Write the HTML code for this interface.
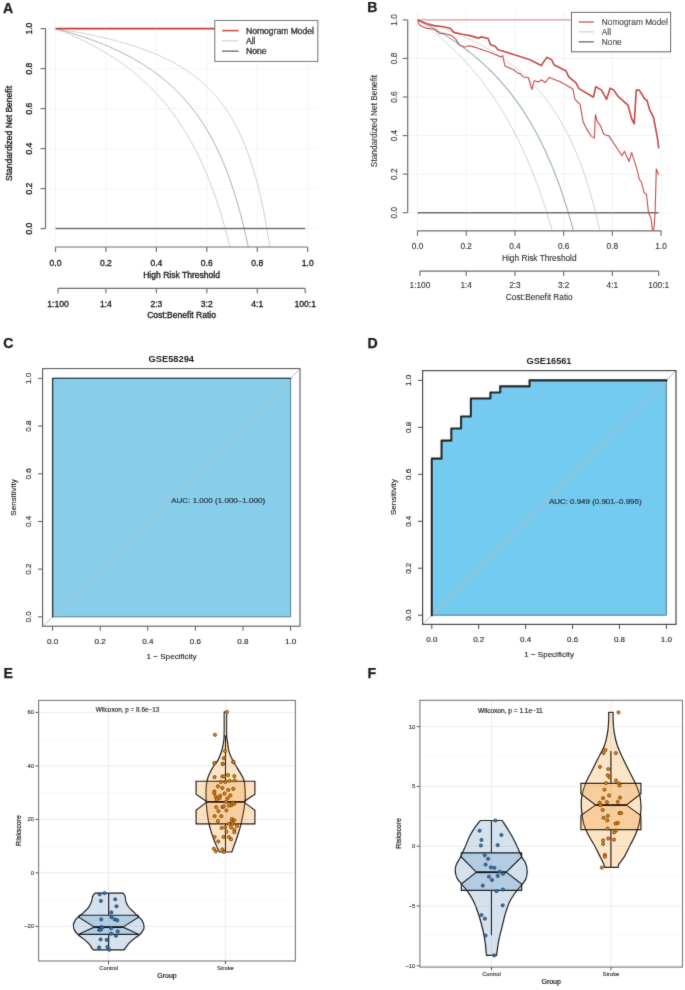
<!DOCTYPE html><html><head><meta charset="utf-8"><style>html,body{margin:0;padding:0;background:#fff;}svg{display:block;font-family:"Liberation Sans", sans-serif;will-change:transform;}</style></head><body>
<svg width="685" height="990" viewBox="0 0 685 990">
<defs><filter id="soft" x="0" y="0" width="685" height="990" filterUnits="userSpaceOnUse"><feConvolveMatrix order="3" kernelMatrix="1 8 1 8 64 8 1 8 1" divisor="100" edgeMode="duplicate"/></filter></defs>
<rect width="685" height="990" fill="#fff"/>
<g filter="url(#soft)">
<text x="2.9" y="12.65" font-size="14.1" text-anchor="start" font-weight="bold" fill="#1a1a1a" stroke="#1a1a1a" stroke-width="0.25">A</text>
<text x="367.2" y="12.45" font-size="14.1" text-anchor="start" font-weight="bold" fill="#1a1a1a" stroke="#1a1a1a" stroke-width="0.25">B</text>
<text x="3.2" y="347.95" font-size="14.1" text-anchor="start" font-weight="bold" fill="#1a1a1a" stroke="#1a1a1a" stroke-width="0.25">C</text>
<text x="367.5" y="347.85" font-size="14.1" text-anchor="start" font-weight="bold" fill="#1a1a1a" stroke="#1a1a1a" stroke-width="0.25">D</text>
<text x="3.5" y="677.95" font-size="14.1" text-anchor="start" font-weight="bold" fill="#1a1a1a" stroke="#1a1a1a" stroke-width="0.25">E</text>
<text x="367.5" y="677.95" font-size="14.1" text-anchor="start" font-weight="bold" fill="#1a1a1a" stroke="#1a1a1a" stroke-width="0.25">F</text>
<line x1="55.5" y1="20.3" x2="55.5" y2="247" stroke="#f4f4f4" stroke-width="1"/>
<line x1="105.94" y1="20.3" x2="105.94" y2="247" stroke="#f4f4f4" stroke-width="1"/>
<line x1="156.38" y1="20.3" x2="156.38" y2="247" stroke="#f4f4f4" stroke-width="1"/>
<line x1="206.82" y1="20.3" x2="206.82" y2="247" stroke="#f4f4f4" stroke-width="1"/>
<line x1="257.26" y1="20.3" x2="257.26" y2="247" stroke="#f4f4f4" stroke-width="1"/>
<line x1="307.7" y1="20.3" x2="307.7" y2="247" stroke="#f4f4f4" stroke-width="1"/>
<line x1="45.5" y1="228.6" x2="317.8" y2="228.6" stroke="#f4f4f4" stroke-width="1"/>
<line x1="45.5" y1="188.6" x2="317.8" y2="188.6" stroke="#f4f4f4" stroke-width="1"/>
<line x1="45.5" y1="148.6" x2="317.8" y2="148.6" stroke="#f4f4f4" stroke-width="1"/>
<line x1="45.5" y1="108.6" x2="317.8" y2="108.6" stroke="#f4f4f4" stroke-width="1"/>
<line x1="45.5" y1="68.6" x2="317.8" y2="68.6" stroke="#f4f4f4" stroke-width="1"/>
<line x1="45.5" y1="28.6" x2="317.8" y2="28.6" stroke="#f4f4f4" stroke-width="1"/>
<clipPath id="ca"><rect x="45.5" y="20.3" width="272.3" height="226.7"/></clipPath>
<g clip-path="url(#ca)">
<polyline points="55.5,28.6 56.76,29.09 58.02,29.58 59.28,30.08 60.54,30.58 61.8,31.09 63.07,31.61 64.33,32.12 65.59,32.65 66.85,33.18 68.11,33.71 69.37,34.26 70.63,34.8 71.89,35.36 73.15,35.91 74.41,36.48 75.68,37.05 76.94,37.63 78.2,38.21 79.46,38.8 80.72,39.4 81.98,40 83.24,40.61 84.5,41.23 85.76,41.85 87.03,42.48 88.29,43.12 89.55,43.77 90.81,44.42 92.07,45.08 93.33,45.75 94.59,46.43 95.85,47.11 97.11,47.8 98.37,48.5 99.64,49.21 100.9,49.93 102.16,50.66 103.42,51.39 104.68,52.14 105.94,52.89 107.2,53.66 108.46,54.43 109.72,55.22 110.98,56.01 112.25,56.81 113.51,57.63 114.77,58.45 116.03,59.29 117.29,60.13 118.55,60.99 119.81,61.86 121.07,62.74 122.33,63.64 123.59,64.54 124.86,65.46 126.12,66.39 127.38,67.33 128.64,68.29 129.9,69.26 131.16,70.25 132.42,71.25 133.68,72.26 134.94,73.29 136.2,74.33 137.47,75.39 138.73,76.46 139.99,77.55 141.25,78.66 142.51,79.78 143.77,80.93 145.03,82.08 146.29,83.26 147.55,84.46 148.81,85.67 150.08,86.91 151.34,88.16 152.6,89.43 153.86,90.73 155.12,92.05 156.38,93.38 157.64,94.75 158.9,96.13 160.16,97.54 161.42,98.97 162.69,100.43 163.95,101.91 165.21,103.42 166.47,104.95 167.73,106.52 168.99,108.11 170.25,109.73 171.51,111.38 172.77,113.06 174.03,114.78 175.3,116.52 176.56,118.3 177.82,120.12 179.08,121.97 180.34,123.85 181.6,125.78 182.86,127.74 184.12,129.74 185.38,131.79 186.64,133.87 187.91,136.01 189.17,138.18 190.43,140.41 191.69,142.68 192.95,145 194.21,147.37 195.47,149.8 196.73,152.28 197.99,154.82 199.25,157.42 200.52,160.07 201.78,162.8 203.04,165.58 204.3,168.44 205.56,171.37 206.82,174.37 208.08,177.44 209.34,180.59 210.6,183.83 211.86,187.15 213.13,190.56 214.39,194.06 215.65,197.66 216.91,201.36 218.17,205.16 219.43,209.07 220.69,213.1 221.95,217.24 223.21,221.5 224.47,225.9 225.74,230.43 227,235.1 228.26,239.92 229.52,244.9 230.78,250.04 232.04,255.35 233.3,260.84 234.56,266.52 235.82,272.39" fill="none" stroke="#cfcfcf" stroke-width="1" stroke-linejoin="round"/>
<polyline points="55.5,28.6 56.76,28.79 58.02,28.99 59.28,29.19 60.54,29.39 61.8,29.59 63.07,29.8 64.33,30 65.59,30.21 66.85,30.42 68.11,30.63 69.37,30.85 70.63,31.07 71.89,31.29 73.15,31.51 74.41,31.73 75.68,31.96 76.94,32.19 78.2,32.42 79.46,32.66 80.72,32.9 81.98,33.14 83.24,33.38 84.5,33.62 85.76,33.87 87.03,34.12 88.29,34.38 89.55,34.63 90.81,34.89 92.07,35.16 93.33,35.42 94.59,35.69 95.85,35.96 97.11,36.24 98.37,36.52 99.64,36.8 100.9,37.09 102.16,37.38 103.42,37.67 104.68,37.97 105.94,38.27 107.2,38.57 108.46,38.88 109.72,39.19 110.98,39.51 112.25,39.82 113.51,40.15 114.77,40.48 116.03,40.81 117.29,41.15 118.55,41.49 119.81,41.83 121.07,42.18 122.33,42.54 123.59,42.9 124.86,43.27 126.12,43.64 127.38,44.01 128.64,44.39 129.9,44.78 131.16,45.17 132.42,45.57 133.68,45.97 134.94,46.38 136.2,46.79 137.47,47.22 138.73,47.64 139.99,48.08 141.25,48.52 142.51,48.96 143.77,49.42 145.03,49.88 146.29,50.35 147.55,50.82 148.81,51.31 150.08,51.8 151.34,52.3 152.6,52.8 153.86,53.32 155.12,53.84 156.38,54.38 157.64,54.92 158.9,55.47 160.16,56.03 161.42,56.6 162.69,57.18 163.95,57.77 165.21,58.37 166.47,58.98 167.73,59.6 168.99,60.23 170.25,60.88 171.51,61.54 172.77,62.2 174.03,62.89 175.3,63.58 176.56,64.29 177.82,65.01 179.08,65.75 180.34,66.5 181.6,67.26 182.86,68.04 184.12,68.84 185.38,69.66 186.64,70.49 187.91,71.33 189.17,72.2 190.43,73.08 191.69,73.99 192.95,74.91 194.21,75.86 195.47,76.82 196.73,77.81 197.99,78.82 199.25,79.85 200.52,80.91 201.78,81.99 203.04,83.1 204.3,84.24 205.56,85.4 206.82,86.6 208.08,87.82 209.34,89.07 210.6,90.36 211.86,91.68 213.13,93.04 214.39,94.43 215.65,95.86 216.91,97.34 218.17,98.85 219.43,100.4 220.69,102 221.95,103.65 223.21,105.35 224.47,107.1 225.74,108.9 227,110.76 228.26,112.68 229.52,114.66 230.78,116.7 232.04,118.81 233.3,121 234.56,123.26 235.82,125.6 237.08,128.02 238.35,130.53 239.61,133.13 240.87,135.84 242.13,138.64 243.39,141.56 244.65,144.59 245.91,147.75 247.17,151.03 248.43,154.46 249.69,158.04 250.96,161.77 252.22,165.68 253.48,169.77 254.74,174.05 256,178.54 257.26,183.25 258.52,188.21 259.78,193.43 261.04,198.93 262.3,204.73 263.57,210.87 264.83,217.37 266.09,224.26 267.35,231.58 268.61,239.38 269.87,247.69 271.13,256.58 272.39,266.1 273.65,276.33" fill="none" stroke="#cfcfcf" stroke-width="1" stroke-linejoin="round"/>
<polyline points="55.5,28.6 56.76,28.94 58.02,29.28 59.28,29.63 60.54,29.98 61.8,30.33 63.07,30.68 64.33,31.04 65.59,31.41 66.85,31.77 68.11,32.15 69.37,32.52 70.63,32.9 71.89,33.28 73.15,33.67 74.41,34.06 75.68,34.46 76.94,34.86 78.2,35.26 79.46,35.67 80.72,36.09 81.98,36.5 83.24,36.93 84.5,37.36 85.76,37.79 87.03,38.23 88.29,38.67 89.55,39.12 90.81,39.57 92.07,40.03 93.33,40.49 94.59,40.96 95.85,41.43 97.11,41.91 98.37,42.4 99.64,42.89 100.9,43.39 102.16,43.89 103.42,44.41 104.68,44.92 105.94,45.44 107.2,45.97 108.46,46.51 109.72,47.05 110.98,47.6 112.25,48.16 113.51,48.73 114.77,49.3 116.03,49.88 117.29,50.46 118.55,51.06 119.81,51.66 121.07,52.27 122.33,52.89 123.59,53.52 124.86,54.16 126.12,54.8 127.38,55.46 128.64,56.12 129.9,56.79 131.16,57.48 132.42,58.17 133.68,58.87 134.94,59.58 136.2,60.31 137.47,61.04 138.73,61.79 139.99,62.54 141.25,63.31 142.51,64.09 143.77,64.88 145.03,65.68 146.29,66.5 147.55,67.33 148.81,68.17 150.08,69.03 151.34,69.9 152.6,70.78 153.86,71.68 155.12,72.59 156.38,73.52 157.64,74.46 158.9,75.42 160.16,76.4 161.42,77.39 162.69,78.4 163.95,79.43 165.21,80.48 166.47,81.54 167.73,82.63 168.99,83.73 170.25,84.85 171.51,86 172.77,87.16 174.03,88.35 175.3,89.56 176.56,90.8 177.82,92.05 179.08,93.34 180.34,94.65 181.6,95.98 182.86,97.34 184.12,98.73 185.38,100.15 186.64,101.59 187.91,103.07 189.17,104.58 190.43,106.12 191.69,107.7 192.95,109.31 194.21,110.95 195.47,112.64 196.73,114.36 197.99,116.12 199.25,117.92 200.52,119.76 201.78,121.65 203.04,123.58 204.3,125.56 205.56,127.59 206.82,129.67 208.08,131.8 209.34,133.99 210.6,136.23 211.86,138.54 213.13,140.9 214.39,143.33 215.65,145.82 216.91,148.39 218.17,151.02 219.43,153.73 220.69,156.52 221.95,159.4 223.21,162.35 224.47,165.4 225.74,168.54 227,171.78 228.26,175.12 229.52,178.57 230.78,182.14 232.04,185.82 233.3,189.63 234.56,193.56 235.82,197.64 237.08,201.86 238.35,206.24 239.61,210.77 240.87,215.48 242.13,220.37 243.39,225.45 244.65,230.74 245.91,236.24 247.17,241.97 248.43,247.94 249.69,254.18 250.96,260.69 252.22,267.49 253.48,274.61" fill="none" stroke="#ababab" stroke-width="1" stroke-linejoin="round"/>
<line x1="55.5" y1="228.6" x2="305.18" y2="228.6" stroke="#707070" stroke-width="1.5"/>
<line x1="55.5" y1="28.6" x2="214.8" y2="28.6" stroke="#cf3434" stroke-width="1.6"/>
</g>
<line x1="45.5" y1="228.6" x2="45.5" y2="28.6" stroke="#6e6e6e" stroke-width="1.2"/>
<line x1="40.5" y1="228.6" x2="45.5" y2="228.6" stroke="#6e6e6e" stroke-width="1.15"/>
<text x="29.2" y="228.6" font-size="8.55" text-anchor="middle" font-weight="normal" fill="#151515" transform="rotate(-90 29.2 228.6)" dy="3" stroke="#151515" stroke-width="0.3">0.0</text>
<line x1="40.5" y1="188.6" x2="45.5" y2="188.6" stroke="#6e6e6e" stroke-width="1.15"/>
<text x="29.2" y="188.6" font-size="8.55" text-anchor="middle" font-weight="normal" fill="#151515" transform="rotate(-90 29.2 188.6)" dy="3" stroke="#151515" stroke-width="0.3">0.2</text>
<line x1="40.5" y1="148.6" x2="45.5" y2="148.6" stroke="#6e6e6e" stroke-width="1.15"/>
<text x="29.2" y="148.6" font-size="8.55" text-anchor="middle" font-weight="normal" fill="#151515" transform="rotate(-90 29.2 148.6)" dy="3" stroke="#151515" stroke-width="0.3">0.4</text>
<line x1="40.5" y1="108.6" x2="45.5" y2="108.6" stroke="#6e6e6e" stroke-width="1.15"/>
<text x="29.2" y="108.6" font-size="8.55" text-anchor="middle" font-weight="normal" fill="#151515" transform="rotate(-90 29.2 108.6)" dy="3" stroke="#151515" stroke-width="0.3">0.6</text>
<line x1="40.5" y1="68.6" x2="45.5" y2="68.6" stroke="#6e6e6e" stroke-width="1.15"/>
<text x="29.2" y="68.6" font-size="8.55" text-anchor="middle" font-weight="normal" fill="#151515" transform="rotate(-90 29.2 68.6)" dy="3" stroke="#151515" stroke-width="0.3">0.8</text>
<line x1="40.5" y1="28.6" x2="45.5" y2="28.6" stroke="#6e6e6e" stroke-width="1.15"/>
<text x="29.2" y="28.6" font-size="8.55" text-anchor="middle" font-weight="normal" fill="#151515" transform="rotate(-90 29.2 28.6)" dy="3" stroke="#151515" stroke-width="0.3">1.0</text>
<text x="12.2" y="133.5" font-size="8.55" text-anchor="middle" font-weight="normal" fill="#151515" transform="rotate(-90 12.2 133.5)" stroke="#151515" stroke-width="0.3">Standardized Net Benefit</text>
<line x1="55.5" y1="247" x2="307.7" y2="247" stroke="#6e6e6e" stroke-width="1.2"/>
<line x1="55.5" y1="247" x2="55.5" y2="252" stroke="#6e6e6e" stroke-width="1.15"/>
<text x="55.5" y="265.9" font-size="8.55" text-anchor="middle" font-weight="normal" fill="#151515" stroke="#151515" stroke-width="0.3">0.0</text>
<line x1="105.94" y1="247" x2="105.94" y2="252" stroke="#6e6e6e" stroke-width="1.15"/>
<text x="105.94" y="265.9" font-size="8.55" text-anchor="middle" font-weight="normal" fill="#151515" stroke="#151515" stroke-width="0.3">0.2</text>
<line x1="156.38" y1="247" x2="156.38" y2="252" stroke="#6e6e6e" stroke-width="1.15"/>
<text x="156.38" y="265.9" font-size="8.55" text-anchor="middle" font-weight="normal" fill="#151515" stroke="#151515" stroke-width="0.3">0.4</text>
<line x1="206.82" y1="247" x2="206.82" y2="252" stroke="#6e6e6e" stroke-width="1.15"/>
<text x="206.82" y="265.9" font-size="8.55" text-anchor="middle" font-weight="normal" fill="#151515" stroke="#151515" stroke-width="0.3">0.6</text>
<line x1="257.26" y1="247" x2="257.26" y2="252" stroke="#6e6e6e" stroke-width="1.15"/>
<text x="257.26" y="265.9" font-size="8.55" text-anchor="middle" font-weight="normal" fill="#151515" stroke="#151515" stroke-width="0.3">0.8</text>
<line x1="307.7" y1="247" x2="307.7" y2="252" stroke="#6e6e6e" stroke-width="1.15"/>
<text x="307.7" y="265.9" font-size="8.55" text-anchor="middle" font-weight="normal" fill="#151515" stroke="#151515" stroke-width="0.3">1.0</text>
<text x="181.6" y="278.4" font-size="8.55" text-anchor="middle" font-weight="normal" fill="#151515" stroke="#151515" stroke-width="0.3">High Risk Threshold</text>
<line x1="58" y1="288.3" x2="305.2" y2="288.3" stroke="#6e6e6e" stroke-width="1.2"/>
<line x1="58" y1="288.3" x2="58" y2="293.3" stroke="#6e6e6e" stroke-width="1.15"/>
<text x="58" y="307.2" font-size="8.55" text-anchor="middle" font-weight="normal" fill="#151515" stroke="#151515" stroke-width="0.3">1:100</text>
<line x1="105.94" y1="288.3" x2="105.94" y2="293.3" stroke="#6e6e6e" stroke-width="1.15"/>
<text x="105.94" y="307.2" font-size="8.55" text-anchor="middle" font-weight="normal" fill="#151515" stroke="#151515" stroke-width="0.3">1:4</text>
<line x1="156.38" y1="288.3" x2="156.38" y2="293.3" stroke="#6e6e6e" stroke-width="1.15"/>
<text x="156.38" y="307.2" font-size="8.55" text-anchor="middle" font-weight="normal" fill="#151515" stroke="#151515" stroke-width="0.3">2:3</text>
<line x1="206.82" y1="288.3" x2="206.82" y2="293.3" stroke="#6e6e6e" stroke-width="1.15"/>
<text x="206.82" y="307.2" font-size="8.55" text-anchor="middle" font-weight="normal" fill="#151515" stroke="#151515" stroke-width="0.3">3:2</text>
<line x1="257.26" y1="288.3" x2="257.26" y2="293.3" stroke="#6e6e6e" stroke-width="1.15"/>
<text x="257.26" y="307.2" font-size="8.55" text-anchor="middle" font-weight="normal" fill="#151515" stroke="#151515" stroke-width="0.3">4:1</text>
<line x1="305.2" y1="288.3" x2="305.2" y2="293.3" stroke="#6e6e6e" stroke-width="1.15"/>
<text x="305.2" y="307.2" font-size="8.55" text-anchor="middle" font-weight="normal" fill="#151515" stroke="#151515" stroke-width="0.3">100:1</text>
<text x="181.6" y="317.9" font-size="8.55" text-anchor="middle" font-weight="normal" fill="#151515" stroke="#151515" stroke-width="0.3">Cost:Benefit Ratio</text>
<rect x="214.8" y="20.5" width="103" height="40.9" fill="#fff" stroke="#6a6a6a" stroke-width="1"/>
<line x1="222" y1="30.6" x2="238.5" y2="30.6" stroke="#cf3434" stroke-width="1.6"/>
<text x="246" y="33.7" font-size="8.55" text-anchor="start" font-weight="normal" fill="#151515" stroke="#151515" stroke-width="0.3">Nomogram Model</text>
<line x1="222" y1="40.8" x2="238.5" y2="40.8" stroke="#dadada" stroke-width="1.6"/>
<text x="246" y="43.9" font-size="8.55" text-anchor="start" font-weight="normal" fill="#151515" stroke="#151515" stroke-width="0.3">All</text>
<line x1="222" y1="51.2" x2="238.5" y2="51.2" stroke="#7a7a7a" stroke-width="1.6"/>
<text x="246" y="54.3" font-size="8.55" text-anchor="start" font-weight="normal" fill="#151515" stroke="#151515" stroke-width="0.3">None</text>
<line x1="417.5" y1="11.8" x2="417.5" y2="230.7" stroke="#f0f3f3" stroke-width="1"/>
<line x1="466.22" y1="11.8" x2="466.22" y2="230.7" stroke="#f0f3f3" stroke-width="1"/>
<line x1="514.94" y1="11.8" x2="514.94" y2="230.7" stroke="#f0f3f3" stroke-width="1"/>
<line x1="563.66" y1="11.8" x2="563.66" y2="230.7" stroke="#f0f3f3" stroke-width="1"/>
<line x1="612.38" y1="11.8" x2="612.38" y2="230.7" stroke="#f0f3f3" stroke-width="1"/>
<line x1="661.1" y1="11.8" x2="661.1" y2="230.7" stroke="#f0f3f3" stroke-width="1"/>
<line x1="407.7" y1="212.7" x2="670.8" y2="212.7" stroke="#f0f3f3" stroke-width="1"/>
<line x1="407.7" y1="174.14" x2="670.8" y2="174.14" stroke="#f0f3f3" stroke-width="1"/>
<line x1="407.7" y1="135.58" x2="670.8" y2="135.58" stroke="#f0f3f3" stroke-width="1"/>
<line x1="407.7" y1="97.02" x2="670.8" y2="97.02" stroke="#f0f3f3" stroke-width="1"/>
<line x1="407.7" y1="58.46" x2="670.8" y2="58.46" stroke="#f0f3f3" stroke-width="1"/>
<line x1="407.7" y1="19.9" x2="670.8" y2="19.9" stroke="#f0f3f3" stroke-width="1"/>
<clipPath id="cb"><rect x="407.7" y="11.8" width="263.1" height="218.9"/></clipPath>
<g clip-path="url(#cb)">
<polyline points="417.5,19.9 418.72,20.76 419.94,21.62 421.15,22.49 422.37,23.38 423.59,24.27 424.81,25.17 426.03,26.08 427.24,27 428.46,27.92 429.68,28.86 430.9,29.81 432.12,30.77 433.33,31.74 434.55,32.72 435.77,33.71 436.99,34.71 438.21,35.72 439.42,36.74 440.64,37.78 441.86,38.82 443.08,39.88 444.3,40.95 445.51,42.03 446.73,43.12 447.95,44.23 449.17,45.35 450.39,46.48 451.6,47.62 452.82,48.78 454.04,49.95 455.26,51.14 456.48,52.34 457.69,53.55 458.91,54.78 460.13,56.02 461.35,57.28 462.57,58.55 463.78,59.84 465,61.15 466.22,62.47 467.44,63.81 468.66,65.17 469.87,66.54 471.09,67.93 472.31,69.34 473.53,70.77 474.75,72.21 475.96,73.68 477.18,75.16 478.4,76.66 479.62,78.19 480.84,79.73 482.05,81.3 483.27,82.88 484.49,84.49 485.71,86.12 486.93,87.78 488.14,89.45 489.36,91.16 490.58,92.88 491.8,94.63 493.02,96.41 494.23,98.21 495.45,100.04 496.67,101.89 497.89,103.77 499.11,105.68 500.32,107.62 501.54,109.59 502.76,111.59 503.98,113.62 505.2,115.69 506.41,117.78 507.63,119.91 508.85,122.07 510.07,124.27 511.29,126.5 512.5,128.77 513.72,131.08 514.94,133.43 516.16,135.81 517.38,138.24 518.59,140.7 519.81,143.21 521.03,145.77 522.25,148.36 523.47,151.01 524.68,153.7 525.9,156.44 527.12,159.23 528.34,162.07 529.56,164.96 530.77,167.91 531.99,170.91 533.21,173.97 534.43,177.09 535.65,180.27 536.86,183.51 538.08,186.82 539.3,190.19 540.52,193.63 541.74,197.14 542.95,200.72 544.17,204.38 545.39,208.11 546.61,211.93 547.83,215.82 549.04,219.8 550.26,223.87 551.48,228.03 552.7,232.28 553.92,236.63 555.13,241.08 556.35,245.63 557.57,250.29 558.79,255.06" fill="none" stroke="#c8d4d5" stroke-width="1" stroke-linejoin="round"/>
<polyline points="417.5,19.9 418.72,20.26 419.94,20.62 421.15,20.98 422.37,21.35 423.59,21.72 424.81,22.09 426.03,22.47 427.24,22.86 428.46,23.24 429.68,23.63 430.9,24.03 432.12,24.43 433.33,24.83 434.55,25.24 435.77,25.65 436.99,26.07 438.21,26.49 439.42,26.92 440.64,27.35 441.86,27.78 443.08,28.22 444.3,28.67 445.51,29.12 446.73,29.57 447.95,30.04 449.17,30.5 450.39,30.97 451.6,31.45 452.82,31.93 454.04,32.42 455.26,32.91 456.48,33.41 457.69,33.92 458.91,34.43 460.13,34.95 461.35,35.47 462.57,36 463.78,36.54 465,37.09 466.22,37.64 467.44,38.19 468.66,38.76 469.87,39.33 471.09,39.91 472.31,40.5 473.53,41.09 474.75,41.69 475.96,42.3 477.18,42.92 478.4,43.55 479.62,44.18 480.84,44.83 482.05,45.48 483.27,46.14 484.49,46.81 485.71,47.49 486.93,48.18 488.14,48.88 489.36,49.59 490.58,50.31 491.8,51.04 493.02,51.78 494.23,52.53 495.45,53.29 496.67,54.06 497.89,54.84 499.11,55.64 500.32,56.45 501.54,57.27 502.76,58.1 503.98,58.95 505.2,59.81 506.41,60.68 507.63,61.57 508.85,62.47 510.07,63.38 511.29,64.31 512.5,65.26 513.72,66.22 514.94,67.2 516.16,68.19 517.38,69.2 518.59,70.23 519.81,71.28 521.03,72.34 522.25,73.42 523.47,74.52 524.68,75.65 525.9,76.79 527.12,77.95 528.34,79.13 529.56,80.34 530.77,81.57 531.99,82.82 533.21,84.09 534.43,85.39 535.65,86.72 536.86,88.07 538.08,89.44 539.3,90.85 540.52,92.28 541.74,93.74 542.95,95.24 544.17,96.76 545.39,98.32 546.61,99.91 547.83,101.53 549.04,103.19 550.26,104.88 551.48,106.61 552.7,108.39 553.92,110.2 555.13,112.05 556.35,113.95 557.57,115.89 558.79,117.88 560.01,119.91 561.22,122 562.44,124.13 563.66,126.32 564.88,128.57 566.1,130.87 567.31,133.23 568.53,135.66 569.75,138.15 570.97,140.7 572.19,143.33 573.4,146.03 574.62,148.81 575.84,151.66 577.06,154.6 578.28,157.62 579.49,160.74 580.71,163.95 581.93,167.25 583.15,170.67 584.37,174.18 585.58,177.82 586.8,181.57 588.02,185.45 589.24,189.45 590.46,193.6 591.67,197.89 592.89,202.34 594.11,206.95 595.33,211.72 596.55,216.68 597.76,221.83 598.98,227.18 600.2,232.74 601.42,238.54 602.64,244.57 603.85,250.86 605.07,257.42" fill="none" stroke="#c8d4d5" stroke-width="1" stroke-linejoin="round"/>
<polyline points="417.5,19.9 418.72,20.5 419.94,21.1 421.15,21.71 422.37,22.32 423.59,22.94 424.81,23.57 426.03,24.2 427.24,24.84 428.46,25.49 429.68,26.15 430.9,26.81 432.12,27.47 433.33,28.15 434.55,28.83 435.77,29.52 436.99,30.22 438.21,30.92 439.42,31.64 440.64,32.36 441.86,33.09 443.08,33.82 444.3,34.57 445.51,35.32 446.73,36.08 447.95,36.85 449.17,37.63 450.39,38.42 451.6,39.22 452.82,40.03 454.04,40.84 455.26,41.67 456.48,42.5 457.69,43.35 458.91,44.21 460.13,45.07 461.35,45.95 462.57,46.84 463.78,47.74 465,48.65 466.22,49.57 467.44,50.5 468.66,51.45 469.87,52.4 471.09,53.37 472.31,54.35 473.53,55.35 474.75,56.35 475.96,57.37 477.18,58.41 478.4,59.46 479.62,60.52 480.84,61.59 482.05,62.69 483.27,63.79 484.49,64.91 485.71,66.05 486.93,67.2 488.14,68.37 489.36,69.56 490.58,70.76 491.8,71.98 493.02,73.22 494.23,74.47 495.45,75.74 496.67,77.04 497.89,78.35 499.11,79.68 500.32,81.03 501.54,82.41 502.76,83.8 503.98,85.21 505.2,86.65 506.41,88.11 507.63,89.6 508.85,91.1 510.07,92.63 511.29,94.19 512.5,95.77 513.72,97.38 514.94,99.01 516.16,100.68 517.38,102.37 518.59,104.08 519.81,105.83 521.03,107.61 522.25,109.42 523.47,111.27 524.68,113.14 525.9,115.05 527.12,116.99 528.34,118.97 529.56,120.99 530.77,123.04 531.99,125.14 533.21,127.27 534.43,129.44 535.65,131.66 536.86,133.92 538.08,136.22 539.3,138.57 540.52,140.97 541.74,143.41 542.95,145.91 544.17,148.46 545.39,151.06 546.61,153.72 547.83,156.43 549.04,159.21 550.26,162.04 551.48,164.94 552.7,167.9 553.92,170.93 555.13,174.03 556.35,177.21 557.57,180.45 558.79,183.78 560.01,187.18 561.22,190.67 562.44,194.24 563.66,197.91 564.88,201.66 566.1,205.51 567.31,209.46 568.53,213.52 569.75,217.68 570.97,221.96 572.19,226.35 573.4,230.87 574.62,235.51 575.84,240.29 577.06,245.2 578.28,250.26 579.49,255.47" fill="none" stroke="#9aaeb1" stroke-width="1.1" stroke-linejoin="round"/>
<line x1="417.5" y1="212.7" x2="658.66" y2="212.7" stroke="#707070" stroke-width="1.5"/>
<line x1="417.7" y1="19.9" x2="571.5" y2="19.9" stroke="#d98080" stroke-width="1"/>
<polyline points="417.7,19.9 419.2,24.8 422.6,26.7 427.3,28.4 433,29 435.9,30.5 439.7,33.7 443.5,33.2 449.2,34.7 453,36.6 455.8,39.4 459.6,45.1 464.3,47 469.1,45.7 475.7,47.4 483.3,49.9 490.9,52.7 500.9,57.1 502.7,55.6 505,66.1 513.7,69.8 517.9,73.1 520.2,73.7 523.1,77 528.4,77.5 531.9,89.5 534.2,80.7 538.9,81.9 541.2,79.8 545.3,82.5 549.4,77.4 560.7,81.9 572.9,89 575,99.3 580.1,104.4 583.1,121.7 587.2,129.9 591.3,136.1 594.4,138.1 595.4,114.6 597.4,121.7 600.5,125.8 603.6,134 606.6,135.5 608.7,135.6 622,155.7 624.4,151.2 629.1,161.4 631.6,152.6 636.3,166.9 639.3,179.2 641.4,182.2 644,192.4 646.5,194.5 648.5,212.9 651,218 652.6,232 653.6,232 655.1,212.9 656.3,169 658.8,175.1" fill="none" stroke="#c94848" stroke-width="1.1" stroke-linejoin="round"/>
<polyline points="417.7,19.9 426.4,23.7 434,25.6 443.5,26.7 450.1,28.2 453.9,32.4 462.4,34.3 470,35.6 478.8,38.1 481.1,36.9 488.1,38.5 490.4,44.5 495.1,46.3 498,49.8 505,51.8 519.1,56.2 530,59.8 541.2,65.5 546.8,57.4 551.5,59.4 554.1,64.9 565.8,70.7 568.8,76.8 576,82.9 579,88.6 593.4,97.2 595.8,86.6 601.5,90.1 606.6,99.3 610.1,88.2 613.8,90.1 617.9,96.2 628.1,105.4 631.6,118.7 634.2,123.8 636.3,90.1 639.3,90.1 644.9,99.3 646.9,100.3 649.6,109.5 653.6,117.7 657.7,139.7 658.8,148.5" fill="none" stroke="#c94848" stroke-width="1.65" stroke-linejoin="round"/>
</g>
<line x1="407.7" y1="212.7" x2="407.7" y2="19.9" stroke="#6e6e6e" stroke-width="1.2"/>
<line x1="402.7" y1="212.7" x2="407.7" y2="212.7" stroke="#6e6e6e" stroke-width="1.15"/>
<text x="394" y="212.7" font-size="8.3" text-anchor="middle" font-weight="normal" fill="#2e2e2e" transform="rotate(-90 394 212.7)" dy="3" stroke="#2e2e2e" stroke-width="0.1">0.0</text>
<line x1="402.7" y1="174.14" x2="407.7" y2="174.14" stroke="#6e6e6e" stroke-width="1.15"/>
<text x="394" y="174.14" font-size="8.3" text-anchor="middle" font-weight="normal" fill="#2e2e2e" transform="rotate(-90 394 174.14)" dy="3" stroke="#2e2e2e" stroke-width="0.1">0.2</text>
<line x1="402.7" y1="135.58" x2="407.7" y2="135.58" stroke="#6e6e6e" stroke-width="1.15"/>
<text x="394" y="135.58" font-size="8.3" text-anchor="middle" font-weight="normal" fill="#2e2e2e" transform="rotate(-90 394 135.58)" dy="3" stroke="#2e2e2e" stroke-width="0.1">0.4</text>
<line x1="402.7" y1="97.02" x2="407.7" y2="97.02" stroke="#6e6e6e" stroke-width="1.15"/>
<text x="394" y="97.02" font-size="8.3" text-anchor="middle" font-weight="normal" fill="#2e2e2e" transform="rotate(-90 394 97.02)" dy="3" stroke="#2e2e2e" stroke-width="0.1">0.6</text>
<line x1="402.7" y1="58.46" x2="407.7" y2="58.46" stroke="#6e6e6e" stroke-width="1.15"/>
<text x="394" y="58.46" font-size="8.3" text-anchor="middle" font-weight="normal" fill="#2e2e2e" transform="rotate(-90 394 58.46)" dy="3" stroke="#2e2e2e" stroke-width="0.1">0.8</text>
<line x1="402.7" y1="19.9" x2="407.7" y2="19.9" stroke="#6e6e6e" stroke-width="1.15"/>
<text x="394" y="19.9" font-size="8.3" text-anchor="middle" font-weight="normal" fill="#2e2e2e" transform="rotate(-90 394 19.9)" dy="3" stroke="#2e2e2e" stroke-width="0.1">1.0</text>
<text x="376.6" y="121" font-size="8.3" text-anchor="middle" font-weight="normal" fill="#2e2e2e" transform="rotate(-90 376.6 121)" stroke="#2e2e2e" stroke-width="0.1">Standardized Net Benefit</text>
<line x1="417.5" y1="230.8" x2="661.1" y2="230.8" stroke="#6e6e6e" stroke-width="1.2"/>
<line x1="417.5" y1="230.8" x2="417.5" y2="235.8" stroke="#6e6e6e" stroke-width="1.15"/>
<text x="417.5" y="248.6" font-size="8.3" text-anchor="middle" font-weight="normal" fill="#2e2e2e" stroke="#2e2e2e" stroke-width="0.1">0.0</text>
<line x1="466.22" y1="230.8" x2="466.22" y2="235.8" stroke="#6e6e6e" stroke-width="1.15"/>
<text x="466.22" y="248.6" font-size="8.3" text-anchor="middle" font-weight="normal" fill="#2e2e2e" stroke="#2e2e2e" stroke-width="0.1">0.2</text>
<line x1="514.94" y1="230.8" x2="514.94" y2="235.8" stroke="#6e6e6e" stroke-width="1.15"/>
<text x="514.94" y="248.6" font-size="8.3" text-anchor="middle" font-weight="normal" fill="#2e2e2e" stroke="#2e2e2e" stroke-width="0.1">0.4</text>
<line x1="563.66" y1="230.8" x2="563.66" y2="235.8" stroke="#6e6e6e" stroke-width="1.15"/>
<text x="563.66" y="248.6" font-size="8.3" text-anchor="middle" font-weight="normal" fill="#2e2e2e" stroke="#2e2e2e" stroke-width="0.1">0.6</text>
<line x1="612.38" y1="230.8" x2="612.38" y2="235.8" stroke="#6e6e6e" stroke-width="1.15"/>
<text x="612.38" y="248.6" font-size="8.3" text-anchor="middle" font-weight="normal" fill="#2e2e2e" stroke="#2e2e2e" stroke-width="0.1">0.8</text>
<line x1="661.1" y1="230.8" x2="661.1" y2="235.8" stroke="#6e6e6e" stroke-width="1.15"/>
<text x="661.1" y="248.6" font-size="8.3" text-anchor="middle" font-weight="normal" fill="#2e2e2e" stroke="#2e2e2e" stroke-width="0.1">1.0</text>
<text x="539.3" y="261.2" font-size="8.3" text-anchor="middle" font-weight="normal" fill="#2e2e2e" stroke="#2e2e2e" stroke-width="0.1">High Risk Threshold</text>
<line x1="419.91" y1="271.1" x2="658.69" y2="271.1" stroke="#6e6e6e" stroke-width="1.2"/>
<line x1="419.91" y1="271.1" x2="419.91" y2="276.1" stroke="#6e6e6e" stroke-width="1.15"/>
<text x="419.91" y="288.4" font-size="8.3" text-anchor="middle" font-weight="normal" fill="#2e2e2e" stroke="#2e2e2e" stroke-width="0.1">1:100</text>
<line x1="466.22" y1="271.1" x2="466.22" y2="276.1" stroke="#6e6e6e" stroke-width="1.15"/>
<text x="466.22" y="288.4" font-size="8.3" text-anchor="middle" font-weight="normal" fill="#2e2e2e" stroke="#2e2e2e" stroke-width="0.1">1:4</text>
<line x1="514.94" y1="271.1" x2="514.94" y2="276.1" stroke="#6e6e6e" stroke-width="1.15"/>
<text x="514.94" y="288.4" font-size="8.3" text-anchor="middle" font-weight="normal" fill="#2e2e2e" stroke="#2e2e2e" stroke-width="0.1">2:3</text>
<line x1="563.66" y1="271.1" x2="563.66" y2="276.1" stroke="#6e6e6e" stroke-width="1.15"/>
<text x="563.66" y="288.4" font-size="8.3" text-anchor="middle" font-weight="normal" fill="#2e2e2e" stroke="#2e2e2e" stroke-width="0.1">3:2</text>
<line x1="612.38" y1="271.1" x2="612.38" y2="276.1" stroke="#6e6e6e" stroke-width="1.15"/>
<text x="612.38" y="288.4" font-size="8.3" text-anchor="middle" font-weight="normal" fill="#2e2e2e" stroke="#2e2e2e" stroke-width="0.1">4:1</text>
<line x1="658.69" y1="271.1" x2="658.69" y2="276.1" stroke="#6e6e6e" stroke-width="1.15"/>
<text x="658.69" y="288.4" font-size="8.3" text-anchor="middle" font-weight="normal" fill="#2e2e2e" stroke="#2e2e2e" stroke-width="0.1">100:1</text>
<text x="539.3" y="299.6" font-size="8.3" text-anchor="middle" font-weight="normal" fill="#2e2e2e" stroke="#2e2e2e" stroke-width="0.1">Cost:Benefit Ratio</text>
<rect x="571.5" y="12.4" width="99.1" height="39.4" fill="#fff" stroke="#5a5a5a" stroke-width="1"/>
<line x1="578.7" y1="22" x2="593.9" y2="22" stroke="#d46a6a" stroke-width="1.6"/>
<text x="601.8" y="25" font-size="8.3" text-anchor="start" font-weight="normal" fill="#2a2a2a" stroke="#2a2a2a" stroke-width="0.1">Nomogram Model</text>
<line x1="578.7" y1="31.8" x2="593.9" y2="31.8" stroke="#d5dde0" stroke-width="1.6"/>
<text x="601.8" y="34.8" font-size="8.3" text-anchor="start" font-weight="normal" fill="#2a2a2a" stroke="#2a2a2a" stroke-width="0.1">All</text>
<line x1="578.7" y1="41.8" x2="593.9" y2="41.8" stroke="#7a7a7a" stroke-width="1.6"/>
<text x="601.8" y="44.8" font-size="8.3" text-anchor="start" font-weight="normal" fill="#2a2a2a" stroke="#2a2a2a" stroke-width="0.1">None</text>
<polygon points="52.6,616.8 52.6,378.4 290.6,378.4 290.6,616.8 52.6,616.8" fill="#87ceeb" stroke="#4f6d7a" stroke-width="0.9"/>
<clipPath id="cc"><rect x="42.6" y="368.6" width="257.4" height="257.6"/></clipPath>
<line x1="28.8" y1="640.64" x2="314.4" y2="354.56" stroke="#b0b9bd" stroke-width="1" clip-path="url(#cc)"/>
<polyline points="52.6,616.8 52.6,378.4 290.6,378.4" fill="none" stroke="#1c2a30" stroke-width="1.3" stroke-linejoin="round" stroke-linejoin="miter" stroke-linecap="square"/>
<rect x="42.6" y="368.6" width="257.4" height="257.6" fill="none" stroke="#5a5a5a" stroke-width="1.1"/>
<line x1="38" y1="616.8" x2="42.6" y2="616.8" stroke="#5a5a5a" stroke-width="1"/>
<text x="28.4" y="616.8" font-size="8.1" text-anchor="middle" font-weight="normal" fill="#222" transform="rotate(-90 28.4 616.8)" dy="3" stroke="#222" stroke-width="0.12">0.0</text>
<line x1="52.6" y1="626.2" x2="52.6" y2="630.8" stroke="#5a5a5a" stroke-width="1"/>
<text x="52.6" y="644.1" font-size="8.1" text-anchor="middle" font-weight="normal" fill="#222" stroke="#222" stroke-width="0.12">0.0</text>
<line x1="38" y1="569.12" x2="42.6" y2="569.12" stroke="#5a5a5a" stroke-width="1"/>
<text x="28.4" y="569.12" font-size="8.1" text-anchor="middle" font-weight="normal" fill="#222" transform="rotate(-90 28.4 569.12)" dy="3" stroke="#222" stroke-width="0.12">0.2</text>
<line x1="100.2" y1="626.2" x2="100.2" y2="630.8" stroke="#5a5a5a" stroke-width="1"/>
<text x="100.2" y="644.1" font-size="8.1" text-anchor="middle" font-weight="normal" fill="#222" stroke="#222" stroke-width="0.12">0.2</text>
<line x1="38" y1="521.44" x2="42.6" y2="521.44" stroke="#5a5a5a" stroke-width="1"/>
<text x="28.4" y="521.44" font-size="8.1" text-anchor="middle" font-weight="normal" fill="#222" transform="rotate(-90 28.4 521.44)" dy="3" stroke="#222" stroke-width="0.12">0.4</text>
<line x1="147.8" y1="626.2" x2="147.8" y2="630.8" stroke="#5a5a5a" stroke-width="1"/>
<text x="147.8" y="644.1" font-size="8.1" text-anchor="middle" font-weight="normal" fill="#222" stroke="#222" stroke-width="0.12">0.4</text>
<line x1="38" y1="473.76" x2="42.6" y2="473.76" stroke="#5a5a5a" stroke-width="1"/>
<text x="28.4" y="473.76" font-size="8.1" text-anchor="middle" font-weight="normal" fill="#222" transform="rotate(-90 28.4 473.76)" dy="3" stroke="#222" stroke-width="0.12">0.6</text>
<line x1="195.4" y1="626.2" x2="195.4" y2="630.8" stroke="#5a5a5a" stroke-width="1"/>
<text x="195.4" y="644.1" font-size="8.1" text-anchor="middle" font-weight="normal" fill="#222" stroke="#222" stroke-width="0.12">0.6</text>
<line x1="38" y1="426.08" x2="42.6" y2="426.08" stroke="#5a5a5a" stroke-width="1"/>
<text x="28.4" y="426.08" font-size="8.1" text-anchor="middle" font-weight="normal" fill="#222" transform="rotate(-90 28.4 426.08)" dy="3" stroke="#222" stroke-width="0.12">0.8</text>
<line x1="243" y1="626.2" x2="243" y2="630.8" stroke="#5a5a5a" stroke-width="1"/>
<text x="243" y="644.1" font-size="8.1" text-anchor="middle" font-weight="normal" fill="#222" stroke="#222" stroke-width="0.12">0.8</text>
<line x1="38" y1="378.4" x2="42.6" y2="378.4" stroke="#5a5a5a" stroke-width="1"/>
<text x="28.4" y="378.4" font-size="8.1" text-anchor="middle" font-weight="normal" fill="#222" transform="rotate(-90 28.4 378.4)" dy="3" stroke="#222" stroke-width="0.12">1.0</text>
<line x1="290.6" y1="626.2" x2="290.6" y2="630.8" stroke="#5a5a5a" stroke-width="1"/>
<text x="290.6" y="644.1" font-size="8.1" text-anchor="middle" font-weight="normal" fill="#222" stroke="#222" stroke-width="0.12">1.0</text>
<text x="16.4" y="497.5" font-size="8.1" text-anchor="middle" font-weight="normal" fill="#222" transform="rotate(-90 16.4 497.5)" stroke="#222" stroke-width="0.12">Sensitivity</text>
<text x="171.6" y="659.3" font-size="8.1" text-anchor="middle" font-weight="normal" fill="#222" stroke="#222" stroke-width="0.12">1 − Specificity</text>
<text x="171.3" y="362.2" font-size="9.3" text-anchor="middle" font-weight="bold" fill="#222">GSE58294</text>
<text x="171.2" y="503.3" font-size="8.05" text-anchor="start" font-weight="normal" fill="#1c2428" stroke="#1c2428" stroke-width="0.2">AUC: 1.000 (1.000–1.000)</text>
<polygon points="431.8,615.2 431.8,458.67 441.57,458.67 441.57,440.61 451.35,440.61 451.35,428.56 461.12,428.56 461.12,416.52 470.9,416.52 470.9,398.46 490.45,398.46 490.45,392.44 500.23,392.44 500.23,386.42 529.55,386.42 529.55,380.4 666.4,380.4 666.4,615.2 431.8,615.2" fill="#74caf0" stroke="#4f6d7a" stroke-width="0.9"/>
<clipPath id="cd"><rect x="422.6" y="370.6" width="253.4" height="253.8"/></clipPath>
<line x1="408.34" y1="638.68" x2="689.86" y2="356.92" stroke="#b0b9bd" stroke-width="1" clip-path="url(#cd)"/>
<polyline points="431.8,615.2 431.8,458.67 441.57,458.67 441.57,440.61 451.35,440.61 451.35,428.56 461.12,428.56 461.12,416.52 470.9,416.52 470.9,398.46 490.45,398.46 490.45,392.44 500.23,392.44 500.23,386.42 529.55,386.42 529.55,380.4 666.4,380.4" fill="none" stroke="#222" stroke-width="2.1" stroke-linejoin="round" stroke-linejoin="miter" stroke-linecap="square"/>
<rect x="422.6" y="370.6" width="253.4" height="253.8" fill="none" stroke="#4a4a4a" stroke-width="1.2"/>
<line x1="418" y1="615.2" x2="422.6" y2="615.2" stroke="#4a4a4a" stroke-width="1"/>
<text x="408.2" y="615.2" font-size="8" text-anchor="middle" font-weight="normal" fill="#222" transform="rotate(-90 408.2 615.2)" dy="3" stroke="#222" stroke-width="0.12">0.0</text>
<line x1="431.8" y1="624.4" x2="431.8" y2="629" stroke="#4a4a4a" stroke-width="1"/>
<text x="431.8" y="642" font-size="8" text-anchor="middle" font-weight="normal" fill="#222" stroke="#222" stroke-width="0.12">0.0</text>
<line x1="418" y1="568.24" x2="422.6" y2="568.24" stroke="#4a4a4a" stroke-width="1"/>
<text x="408.2" y="568.24" font-size="8" text-anchor="middle" font-weight="normal" fill="#222" transform="rotate(-90 408.2 568.24)" dy="3" stroke="#222" stroke-width="0.12">0.2</text>
<line x1="478.72" y1="624.4" x2="478.72" y2="629" stroke="#4a4a4a" stroke-width="1"/>
<text x="478.72" y="642" font-size="8" text-anchor="middle" font-weight="normal" fill="#222" stroke="#222" stroke-width="0.12">0.2</text>
<line x1="418" y1="521.28" x2="422.6" y2="521.28" stroke="#4a4a4a" stroke-width="1"/>
<text x="408.2" y="521.28" font-size="8" text-anchor="middle" font-weight="normal" fill="#222" transform="rotate(-90 408.2 521.28)" dy="3" stroke="#222" stroke-width="0.12">0.4</text>
<line x1="525.64" y1="624.4" x2="525.64" y2="629" stroke="#4a4a4a" stroke-width="1"/>
<text x="525.64" y="642" font-size="8" text-anchor="middle" font-weight="normal" fill="#222" stroke="#222" stroke-width="0.12">0.4</text>
<line x1="418" y1="474.32" x2="422.6" y2="474.32" stroke="#4a4a4a" stroke-width="1"/>
<text x="408.2" y="474.32" font-size="8" text-anchor="middle" font-weight="normal" fill="#222" transform="rotate(-90 408.2 474.32)" dy="3" stroke="#222" stroke-width="0.12">0.6</text>
<line x1="572.56" y1="624.4" x2="572.56" y2="629" stroke="#4a4a4a" stroke-width="1"/>
<text x="572.56" y="642" font-size="8" text-anchor="middle" font-weight="normal" fill="#222" stroke="#222" stroke-width="0.12">0.6</text>
<line x1="418" y1="427.36" x2="422.6" y2="427.36" stroke="#4a4a4a" stroke-width="1"/>
<text x="408.2" y="427.36" font-size="8" text-anchor="middle" font-weight="normal" fill="#222" transform="rotate(-90 408.2 427.36)" dy="3" stroke="#222" stroke-width="0.12">0.8</text>
<line x1="619.48" y1="624.4" x2="619.48" y2="629" stroke="#4a4a4a" stroke-width="1"/>
<text x="619.48" y="642" font-size="8" text-anchor="middle" font-weight="normal" fill="#222" stroke="#222" stroke-width="0.12">0.8</text>
<line x1="418" y1="380.4" x2="422.6" y2="380.4" stroke="#4a4a4a" stroke-width="1"/>
<text x="408.2" y="380.4" font-size="8" text-anchor="middle" font-weight="normal" fill="#222" transform="rotate(-90 408.2 380.4)" dy="3" stroke="#222" stroke-width="0.12">1.0</text>
<line x1="666.4" y1="624.4" x2="666.4" y2="629" stroke="#4a4a4a" stroke-width="1"/>
<text x="666.4" y="642" font-size="8" text-anchor="middle" font-weight="normal" fill="#222" stroke="#222" stroke-width="0.12">1.0</text>
<text x="396" y="497" font-size="8" text-anchor="middle" font-weight="normal" fill="#222" transform="rotate(-90 396 497)" stroke="#222" stroke-width="0.12">Sensitivity</text>
<text x="549.1" y="657" font-size="8" text-anchor="middle" font-weight="normal" fill="#222" stroke="#222" stroke-width="0.12">1 − Specificity</text>
<text x="549" y="364.4" font-size="9.2" text-anchor="middle" font-weight="bold" fill="#222">GSE16561</text>
<text x="548.9" y="503.7" font-size="7.95" text-anchor="start" font-weight="normal" fill="#1c2428" stroke="#1c2428" stroke-width="0.2">AUC: 0.949 (0.901–0.996)</text>
<line x1="38.6" y1="739.15" x2="295.4" y2="739.15" stroke="#f3f3f3" stroke-width="0.6"/>
<line x1="38.6" y1="792.65" x2="295.4" y2="792.65" stroke="#f3f3f3" stroke-width="0.6"/>
<line x1="38.6" y1="846.15" x2="295.4" y2="846.15" stroke="#f3f3f3" stroke-width="0.6"/>
<line x1="38.6" y1="899.65" x2="295.4" y2="899.65" stroke="#f3f3f3" stroke-width="0.6"/>
<line x1="38.6" y1="953.15" x2="295.4" y2="953.15" stroke="#f3f3f3" stroke-width="0.6"/>
<line x1="38.6" y1="712.4" x2="295.4" y2="712.4" stroke="#ebebeb" stroke-width="1"/>
<line x1="38.6" y1="765.9" x2="295.4" y2="765.9" stroke="#ebebeb" stroke-width="1"/>
<line x1="38.6" y1="819.4" x2="295.4" y2="819.4" stroke="#ebebeb" stroke-width="1"/>
<line x1="38.6" y1="872.9" x2="295.4" y2="872.9" stroke="#ebebeb" stroke-width="1"/>
<line x1="38.6" y1="926.4" x2="295.4" y2="926.4" stroke="#ebebeb" stroke-width="1"/>
<line x1="108.6" y1="700.4" x2="108.6" y2="961" stroke="#ebebeb" stroke-width="1"/>
<line x1="225.4" y1="700.4" x2="225.4" y2="961" stroke="#ebebeb" stroke-width="1"/>
<path d="M123.1,893.1 C123.42,893.6 124.52,894.63 125,896.1 C125.48,897.57 125.4,900.08 126,901.9 C126.6,903.72 127.43,905.42 128.6,907 C129.77,908.58 131.53,909.93 133,911.4 C134.47,912.87 135.93,914.35 137.4,915.8 C138.87,917.25 140.72,918.52 141.8,920.1 C142.88,921.68 143.62,923.72 143.9,925.3 C144.18,926.88 144.1,928.15 143.5,929.6 C142.9,931.05 141.8,932.53 140.3,934 C138.8,935.47 136.33,936.93 134.5,938.4 C132.67,939.87 130.88,941.1 129.3,942.8 C127.72,944.5 125.85,947.43 125,948.6 C124.15,949.77 124.33,949.6 124.2,949.8 L93.2,949.8 L93.2,949.8 C93.13,949.72 93.47,950.23 92.8,949.3 C92.13,948.37 90.53,945.77 89.2,944.2 C87.87,942.63 86.5,941.35 84.8,939.9 C83.1,938.45 80.7,937.08 79,935.5 C77.3,933.92 75.53,932.1 74.6,930.4 C73.67,928.7 73.28,927.02 73.4,925.3 C73.52,923.58 74.37,921.57 75.3,920.1 C76.23,918.63 77.53,917.83 79,916.5 C80.47,915.17 82.52,913.57 84.1,912.1 C85.68,910.63 87.28,909.4 88.5,907.7 C89.72,906 90.68,903.83 91.4,901.9 C92.12,899.97 92.2,897.57 92.8,896.1 C93.4,894.63 94.63,893.6 95,893.1 Z" fill="#4682b4" fill-opacity="0.23" stroke="#1a1a1a" stroke-width="1.2" stroke-linejoin="round"/>
<line x1="108.65" y1="893.1" x2="108.65" y2="915.2" stroke="#1a1a1a" stroke-width="1.15"/>
<line x1="108.65" y1="934.3" x2="108.65" y2="949.8" stroke="#1a1a1a" stroke-width="1.15"/>
<polygon points="79.2,915.2 138.1,915.2 138.1,917.5 123,927.1 138.1,934 138.1,934.3 79.2,934.3 79.2,934 94.3,927.1 79.2,917.5" fill="#4682b4" fill-opacity="0.23" stroke="#1a1a1a" stroke-width="1.15" stroke-linejoin="miter"/>
<line x1="94.3" y1="927.1" x2="123" y2="927.1" stroke="#0a0a0a" stroke-width="1.9"/>
<circle cx="99.7" cy="894.3" r="1.6" fill="#3a73ad" stroke="#1b3a5c" stroke-width="0.7"/>
<circle cx="104.5" cy="893.1" r="1.6" fill="#3a73ad" stroke="#1b3a5c" stroke-width="0.7"/>
<circle cx="100.9" cy="900.9" r="1.6" fill="#3a73ad" stroke="#1b3a5c" stroke-width="0.7"/>
<circle cx="115.2" cy="899.3" r="1.6" fill="#3a73ad" stroke="#1b3a5c" stroke-width="0.7"/>
<circle cx="116.5" cy="906.3" r="1.6" fill="#3a73ad" stroke="#1b3a5c" stroke-width="0.7"/>
<circle cx="111.4" cy="912.4" r="1.6" fill="#3a73ad" stroke="#1b3a5c" stroke-width="0.7"/>
<circle cx="101.2" cy="919.4" r="1.6" fill="#3a73ad" stroke="#1b3a5c" stroke-width="0.7"/>
<circle cx="111.4" cy="917.2" r="1.6" fill="#3a73ad" stroke="#1b3a5c" stroke-width="0.7"/>
<circle cx="114.7" cy="919.4" r="1.6" fill="#3a73ad" stroke="#1b3a5c" stroke-width="0.7"/>
<circle cx="117.2" cy="920.3" r="1.6" fill="#3a73ad" stroke="#1b3a5c" stroke-width="0.7"/>
<circle cx="101.3" cy="927" r="1.6" fill="#3a73ad" stroke="#1b3a5c" stroke-width="0.7"/>
<circle cx="111.1" cy="928.2" r="1.6" fill="#3a73ad" stroke="#1b3a5c" stroke-width="0.7"/>
<circle cx="99.1" cy="929.9" r="1.6" fill="#3a73ad" stroke="#1b3a5c" stroke-width="0.7"/>
<circle cx="100.8" cy="929.7" r="1.6" fill="#3a73ad" stroke="#1b3a5c" stroke-width="0.7"/>
<circle cx="117.7" cy="931.4" r="1.6" fill="#3a73ad" stroke="#1b3a5c" stroke-width="0.7"/>
<circle cx="111.1" cy="933.7" r="1.6" fill="#3a73ad" stroke="#1b3a5c" stroke-width="0.7"/>
<circle cx="115.9" cy="935.8" r="1.6" fill="#3a73ad" stroke="#1b3a5c" stroke-width="0.7"/>
<circle cx="100.6" cy="939.4" r="1.6" fill="#3a73ad" stroke="#1b3a5c" stroke-width="0.7"/>
<circle cx="106.7" cy="939.9" r="1.6" fill="#3a73ad" stroke="#1b3a5c" stroke-width="0.7"/>
<circle cx="99.1" cy="947.4" r="1.6" fill="#3a73ad" stroke="#1b3a5c" stroke-width="0.7"/>
<circle cx="107.4" cy="946.9" r="1.6" fill="#3a73ad" stroke="#1b3a5c" stroke-width="0.7"/>
<circle cx="109.3" cy="949.8" r="1.6" fill="#3a73ad" stroke="#1b3a5c" stroke-width="0.7"/>
<circle cx="102" cy="927.8" r="1.6" fill="#3a73ad" stroke="#1b3a5c" stroke-width="0.7"/>
<path d="M226.6,711.9 C226.6,715.55 226.47,728.93 226.6,733.8 C226.73,738.67 227.02,738.18 227.4,741.1 C227.78,744.02 228.03,748.13 228.9,751.3 C229.77,754.47 231.27,757.42 232.6,760.1 C233.93,762.78 235.45,764.97 236.9,767.4 C238.35,769.83 240.08,772.4 241.3,774.7 C242.52,777 243.58,778.78 244.2,781.2 C244.82,783.62 244.82,786.4 245,789.2 C245.18,792 245.43,794.83 245.3,798 C245.17,801.17 244.62,805.28 244.2,808.2 C243.78,811.12 243.4,812.58 242.8,815.5 C242.2,818.42 241.33,822.78 240.6,825.7 C239.87,828.62 239.25,830.32 238.4,833 C237.55,835.68 236.6,838.63 235.5,841.8 C234.4,844.97 232.42,850.3 231.8,852 L219.4,852 L219.4,852 C219.03,851.27 218.17,849.8 217.2,847.6 C216.23,845.4 214.68,841.72 213.6,838.8 C212.52,835.88 211.55,833.02 210.7,830.1 C209.85,827.18 209.12,824.47 208.5,821.3 C207.88,818.13 207.37,814.27 207,811.1 C206.63,807.93 206.47,805.47 206.3,802.3 C206.13,799.13 205.93,795.4 206,792.1 C206.07,788.8 206.28,785.17 206.7,782.5 C207.12,779.83 207.48,778.62 208.5,776.1 C209.52,773.58 211.22,770.07 212.8,767.4 C214.38,764.73 216.53,762.78 218,760.1 C219.47,757.42 220.68,754.22 221.6,751.3 C222.52,748.38 223.07,745.52 223.5,742.6 C223.93,739.68 224.08,738.92 224.2,733.8 C224.32,728.68 224.2,715.55 224.2,711.9 Z" fill="#f08a14" fill-opacity="0.22" stroke="#1a1a1a" stroke-width="1.2" stroke-linejoin="round"/>
<line x1="225.5" y1="735.3" x2="225.5" y2="781.2" stroke="#1a1a1a" stroke-width="1.15"/>
<line x1="225.5" y1="823.8" x2="225.5" y2="852" stroke="#1a1a1a" stroke-width="1.15"/>
<polygon points="196.1,781.2 254.9,781.2 254.9,794.3 243.5,801.9 254.9,810.4 254.9,823.8 196.1,823.8 196.1,810.4 207,801.9 196.1,794.3" fill="#f08a14" fill-opacity="0.25" stroke="#1a1a1a" stroke-width="1.15" stroke-linejoin="miter"/>
<line x1="207" y1="801.9" x2="243.5" y2="801.9" stroke="#0a0a0a" stroke-width="1.9"/>
<circle cx="214.6" cy="763.21" r="1.6" fill="#e8830f" stroke="#5a3000" stroke-width="0.7"/>
<circle cx="222.77" cy="763.94" r="1.6" fill="#e8830f" stroke="#5a3000" stroke-width="0.7"/>
<circle cx="233.28" cy="761.9" r="1.6" fill="#e8830f" stroke="#5a3000" stroke-width="0.7"/>
<circle cx="214.6" cy="777.08" r="1.6" fill="#e8830f" stroke="#5a3000" stroke-width="0.7"/>
<circle cx="222.34" cy="776.5" r="1.6" fill="#e8830f" stroke="#5a3000" stroke-width="0.7"/>
<circle cx="224.23" cy="776.35" r="1.6" fill="#e8830f" stroke="#5a3000" stroke-width="0.7"/>
<circle cx="228.18" cy="775.04" r="1.6" fill="#e8830f" stroke="#5a3000" stroke-width="0.7"/>
<circle cx="234.31" cy="776.06" r="1.6" fill="#e8830f" stroke="#5a3000" stroke-width="0.7"/>
<circle cx="220.88" cy="781.9" r="1.6" fill="#e8830f" stroke="#5a3000" stroke-width="0.7"/>
<circle cx="225.26" cy="781.9" r="1.6" fill="#e8830f" stroke="#5a3000" stroke-width="0.7"/>
<circle cx="229.64" cy="780.73" r="1.6" fill="#e8830f" stroke="#5a3000" stroke-width="0.7"/>
<circle cx="234.74" cy="780.44" r="1.6" fill="#e8830f" stroke="#5a3000" stroke-width="0.7"/>
<circle cx="217.96" cy="786.28" r="1.6" fill="#e8830f" stroke="#5a3000" stroke-width="0.7"/>
<circle cx="222.34" cy="788.03" r="1.6" fill="#e8830f" stroke="#5a3000" stroke-width="0.7"/>
<circle cx="214.31" cy="791.39" r="1.6" fill="#e8830f" stroke="#5a3000" stroke-width="0.7"/>
<circle cx="214.31" cy="793.28" r="1.6" fill="#e8830f" stroke="#5a3000" stroke-width="0.7"/>
<circle cx="228.18" cy="789.93" r="1.6" fill="#e8830f" stroke="#5a3000" stroke-width="0.7"/>
<circle cx="233.28" cy="788.91" r="1.6" fill="#e8830f" stroke="#5a3000" stroke-width="0.7"/>
<circle cx="215.77" cy="796.5" r="1.6" fill="#e8830f" stroke="#5a3000" stroke-width="0.7"/>
<circle cx="220.15" cy="795.77" r="1.6" fill="#e8830f" stroke="#5a3000" stroke-width="0.7"/>
<circle cx="224.53" cy="793.58" r="1.6" fill="#e8830f" stroke="#5a3000" stroke-width="0.7"/>
<circle cx="230.36" cy="795.47" r="1.6" fill="#e8830f" stroke="#5a3000" stroke-width="0.7"/>
<circle cx="219.42" cy="798.25" r="1.6" fill="#e8830f" stroke="#5a3000" stroke-width="0.7"/>
<circle cx="216.5" cy="799.42" r="1.6" fill="#e8830f" stroke="#5a3000" stroke-width="0.7"/>
<circle cx="227.45" cy="798.25" r="1.6" fill="#e8830f" stroke="#5a3000" stroke-width="0.7"/>
<circle cx="225.99" cy="801.9" r="1.6" fill="#e8830f" stroke="#5a3000" stroke-width="0.7"/>
<circle cx="232.55" cy="802.63" r="1.6" fill="#e8830f" stroke="#5a3000" stroke-width="0.7"/>
<circle cx="234.31" cy="803.8" r="1.6" fill="#e8830f" stroke="#5a3000" stroke-width="0.7"/>
<circle cx="231.09" cy="805.26" r="1.6" fill="#e8830f" stroke="#5a3000" stroke-width="0.7"/>
<circle cx="228.91" cy="805.55" r="1.6" fill="#e8830f" stroke="#5a3000" stroke-width="0.7"/>
<circle cx="216.2" cy="807.15" r="1.6" fill="#e8830f" stroke="#5a3000" stroke-width="0.7"/>
<circle cx="222.34" cy="807.01" r="1.6" fill="#e8830f" stroke="#5a3000" stroke-width="0.7"/>
<circle cx="223.8" cy="806.42" r="1.6" fill="#e8830f" stroke="#5a3000" stroke-width="0.7"/>
<circle cx="218.39" cy="811.09" r="1.6" fill="#e8830f" stroke="#5a3000" stroke-width="0.7"/>
<circle cx="226.42" cy="810.36" r="1.6" fill="#e8830f" stroke="#5a3000" stroke-width="0.7"/>
<circle cx="214.6" cy="816.2" r="1.6" fill="#e8830f" stroke="#5a3000" stroke-width="0.7"/>
<circle cx="221.31" cy="816.2" r="1.6" fill="#e8830f" stroke="#5a3000" stroke-width="0.7"/>
<circle cx="217.96" cy="821.02" r="1.6" fill="#e8830f" stroke="#5a3000" stroke-width="0.7"/>
<circle cx="231.82" cy="819.12" r="1.6" fill="#e8830f" stroke="#5a3000" stroke-width="0.7"/>
<circle cx="234.31" cy="820.15" r="1.6" fill="#e8830f" stroke="#5a3000" stroke-width="0.7"/>
<circle cx="231.82" cy="822.04" r="1.6" fill="#e8830f" stroke="#5a3000" stroke-width="0.7"/>
<circle cx="228.91" cy="823.94" r="1.6" fill="#e8830f" stroke="#5a3000" stroke-width="0.7"/>
<circle cx="232.55" cy="823.94" r="1.6" fill="#e8830f" stroke="#5a3000" stroke-width="0.7"/>
<circle cx="236.93" cy="825.99" r="1.6" fill="#e8830f" stroke="#5a3000" stroke-width="0.7"/>
<circle cx="221.61" cy="827.88" r="1.6" fill="#e8830f" stroke="#5a3000" stroke-width="0.7"/>
<circle cx="225.26" cy="827.45" r="1.6" fill="#e8830f" stroke="#5a3000" stroke-width="0.7"/>
<circle cx="231.09" cy="827.45" r="1.6" fill="#e8830f" stroke="#5a3000" stroke-width="0.7"/>
<circle cx="234.45" cy="829.78" r="1.6" fill="#e8830f" stroke="#5a3000" stroke-width="0.7"/>
<circle cx="226.42" cy="831.82" r="1.6" fill="#e8830f" stroke="#5a3000" stroke-width="0.7"/>
<circle cx="234.31" cy="832.26" r="1.6" fill="#e8830f" stroke="#5a3000" stroke-width="0.7"/>
<circle cx="214.6" cy="837.08" r="1.6" fill="#e8830f" stroke="#5a3000" stroke-width="0.7"/>
<circle cx="223.5" cy="836.93" r="1.6" fill="#e8830f" stroke="#5a3000" stroke-width="0.7"/>
<circle cx="228.91" cy="837.08" r="1.6" fill="#e8830f" stroke="#5a3000" stroke-width="0.7"/>
<circle cx="231.09" cy="839.27" r="1.6" fill="#e8830f" stroke="#5a3000" stroke-width="0.7"/>
<circle cx="218.25" cy="841.46" r="1.6" fill="#e8830f" stroke="#5a3000" stroke-width="0.7"/>
<circle cx="213.87" cy="848.61" r="1.6" fill="#e8830f" stroke="#5a3000" stroke-width="0.7"/>
<circle cx="215.77" cy="851.24" r="1.6" fill="#e8830f" stroke="#5a3000" stroke-width="0.7"/>
<circle cx="222.34" cy="849.34" r="1.6" fill="#e8830f" stroke="#5a3000" stroke-width="0.7"/>
<circle cx="224.09" cy="851.97" r="1.6" fill="#e8830f" stroke="#5a3000" stroke-width="0.7"/>
<circle cx="227" cy="711.9" r="1.6" fill="#e8830f" stroke="#5a3000" stroke-width="0.7"/>
<circle cx="215" cy="734.8" r="1.6" fill="#e8830f" stroke="#5a3000" stroke-width="0.7"/>
<circle cx="225" cy="751" r="1.6" fill="#e8830f" stroke="#5a3000" stroke-width="0.7"/>
<circle cx="223.8" cy="758.2" r="1.6" fill="#e8830f" stroke="#5a3000" stroke-width="0.7"/>
<circle cx="222.8" cy="764" r="1.6" fill="#e8830f" stroke="#5a3000" stroke-width="0.7"/>
<circle cx="233.3" cy="762" r="1.6" fill="#e8830f" stroke="#5a3000" stroke-width="0.7"/>
<circle cx="214.4" cy="763" r="1.6" fill="#e8830f" stroke="#5a3000" stroke-width="0.7"/>
<rect x="38.6" y="700.4" width="256.8" height="260.6" fill="none" stroke="#7a7a7a" stroke-width="1.1"/>
<line x1="35.4" y1="712.4" x2="38.6" y2="712.4" stroke="#444" stroke-width="0.9"/>
<text x="34" y="714.45" font-size="5.8" text-anchor="end" font-weight="normal" fill="#383838" stroke="#383838" stroke-width="0.15">60</text>
<line x1="35.4" y1="765.9" x2="38.6" y2="765.9" stroke="#444" stroke-width="0.9"/>
<text x="34" y="767.95" font-size="5.8" text-anchor="end" font-weight="normal" fill="#383838" stroke="#383838" stroke-width="0.15">40</text>
<line x1="35.4" y1="819.4" x2="38.6" y2="819.4" stroke="#444" stroke-width="0.9"/>
<text x="34" y="821.45" font-size="5.8" text-anchor="end" font-weight="normal" fill="#383838" stroke="#383838" stroke-width="0.15">20</text>
<line x1="35.4" y1="872.9" x2="38.6" y2="872.9" stroke="#444" stroke-width="0.9"/>
<text x="34" y="874.95" font-size="5.8" text-anchor="end" font-weight="normal" fill="#383838" stroke="#383838" stroke-width="0.15">0</text>
<line x1="35.4" y1="926.4" x2="38.6" y2="926.4" stroke="#444" stroke-width="0.9"/>
<text x="34" y="928.45" font-size="5.8" text-anchor="end" font-weight="normal" fill="#383838" stroke="#383838" stroke-width="0.15">−20</text>
<line x1="108.6" y1="961" x2="108.6" y2="964.2" stroke="#444" stroke-width="0.9"/>
<text x="108.6" y="970.4" font-size="5.8" text-anchor="middle" font-weight="normal" fill="#383838" stroke="#383838" stroke-width="0.15">Control</text>
<line x1="225.4" y1="961" x2="225.4" y2="964.2" stroke="#444" stroke-width="0.9"/>
<text x="225.4" y="970.4" font-size="5.8" text-anchor="middle" font-weight="normal" fill="#383838" stroke="#383838" stroke-width="0.15">Stroke</text>
<text x="167" y="978.3" font-size="7" text-anchor="middle" font-weight="normal" fill="#111" stroke="#111" stroke-width="0.18">Group</text>
<text x="20.8" y="830.5" font-size="7" text-anchor="middle" font-weight="normal" fill="#111" transform="rotate(-90 20.8 830.5)" stroke="#111" stroke-width="0.18">Riskscore</text>
<text x="95.8" y="712.1" font-size="6.4" text-anchor="start" font-weight="normal" fill="#111" stroke="#111" stroke-width="0.14">Wilcoxon, p = 8.6e−13</text>
<line x1="419.9" y1="756.5" x2="682.5" y2="756.5" stroke="#f3f3f3" stroke-width="0.6"/>
<line x1="419.9" y1="816.3" x2="682.5" y2="816.3" stroke="#f3f3f3" stroke-width="0.6"/>
<line x1="419.9" y1="876.1" x2="682.5" y2="876.1" stroke="#f3f3f3" stroke-width="0.6"/>
<line x1="419.9" y1="935.9" x2="682.5" y2="935.9" stroke="#f3f3f3" stroke-width="0.6"/>
<line x1="419.9" y1="726.6" x2="682.5" y2="726.6" stroke="#ebebeb" stroke-width="1"/>
<line x1="419.9" y1="786.4" x2="682.5" y2="786.4" stroke="#ebebeb" stroke-width="1"/>
<line x1="419.9" y1="846.2" x2="682.5" y2="846.2" stroke="#ebebeb" stroke-width="1"/>
<line x1="419.9" y1="906" x2="682.5" y2="906" stroke="#ebebeb" stroke-width="1"/>
<line x1="419.9" y1="965.8" x2="682.5" y2="965.8" stroke="#ebebeb" stroke-width="1"/>
<line x1="491.5" y1="700.3" x2="491.5" y2="967.1" stroke="#ebebeb" stroke-width="1"/>
<line x1="610.9" y1="700.3" x2="610.9" y2="967.1" stroke="#ebebeb" stroke-width="1"/>
<path d="M502.2,820.5 C503.15,821.98 506.15,826.57 507.9,829.4 C509.65,832.23 511.1,834.53 512.7,837.5 C514.3,840.47 516.02,843.98 517.5,847.2 C518.98,850.42 520.25,854.12 521.6,856.8 C522.95,859.48 524.67,860.87 525.6,863.3 C526.53,865.73 527.2,868.7 527.2,871.4 C527.2,874.1 526.67,877.08 525.6,879.5 C524.53,881.92 522.68,883.48 520.8,885.9 C518.92,888.32 516.18,891.3 514.3,894 C512.42,896.7 510.98,898.87 509.5,902.1 C508.02,905.33 506.62,909.37 505.4,913.4 C504.18,917.43 503.27,922 502.2,926.3 C501.13,930.6 499.8,935.43 499,939.2 C498.2,942.97 497.82,946.2 497.4,948.9 C496.98,951.6 496.65,954.32 496.5,955.4 L486.5,955.4 L486.5,955.4 C486.42,954.58 486.22,952.65 486,950.5 C485.78,948.35 485.73,946 485.2,942.5 C484.67,939 483.87,934.08 482.8,929.5 C481.73,924.92 480.28,919.57 478.8,915 C477.32,910.43 475.65,905.87 473.9,902.1 C472.15,898.33 470.32,895.37 468.3,892.4 C466.28,889.43 463.68,886.72 461.8,884.3 C459.92,881.88 458.08,880.05 457,877.9 C455.92,875.75 455.43,873.57 455.3,871.4 C455.17,869.23 455.38,867.18 456.2,864.9 C457.02,862.62 458.73,860.65 460.2,857.7 C461.67,854.75 463.38,850.85 465,847.2 C466.62,843.55 468.28,839.03 469.9,835.8 C471.52,832.57 472.95,830.35 474.7,827.8 C476.45,825.25 479.45,821.72 480.4,820.5 Z" fill="#4682b4" fill-opacity="0.23" stroke="#1a1a1a" stroke-width="1.2" stroke-linejoin="round"/>
<line x1="491.45" y1="820.5" x2="491.45" y2="852.8" stroke="#1a1a1a" stroke-width="1.15"/>
<line x1="491.45" y1="890.3" x2="491.45" y2="935.2" stroke="#1a1a1a" stroke-width="1.15"/>
<polygon points="461.3,852.8 521.6,852.8 521.6,857 506.2,872.2 521.6,884 521.6,890.3 461.3,890.3 461.3,884 476.3,872.2 461.3,857" fill="#4682b4" fill-opacity="0.23" stroke="#1a1a1a" stroke-width="1.15" stroke-linejoin="miter"/>
<line x1="476.3" y1="872.2" x2="506.2" y2="872.2" stroke="#0a0a0a" stroke-width="1.9"/>
<circle cx="495.4" cy="820.5" r="1.6" fill="#3a73ad" stroke="#1b3a5c" stroke-width="0.7"/>
<circle cx="479.6" cy="830.7" r="1.6" fill="#3a73ad" stroke="#1b3a5c" stroke-width="0.7"/>
<circle cx="501.4" cy="835" r="1.6" fill="#3a73ad" stroke="#1b3a5c" stroke-width="0.7"/>
<circle cx="481.5" cy="839.9" r="1.6" fill="#3a73ad" stroke="#1b3a5c" stroke-width="0.7"/>
<circle cx="480.9" cy="845.5" r="1.6" fill="#3a73ad" stroke="#1b3a5c" stroke-width="0.7"/>
<circle cx="497.7" cy="845.1" r="1.6" fill="#3a73ad" stroke="#1b3a5c" stroke-width="0.7"/>
<circle cx="484.7" cy="855.2" r="1.6" fill="#3a73ad" stroke="#1b3a5c" stroke-width="0.7"/>
<circle cx="488.1" cy="858.8" r="1.6" fill="#3a73ad" stroke="#1b3a5c" stroke-width="0.7"/>
<circle cx="485.6" cy="864.6" r="1.6" fill="#3a73ad" stroke="#1b3a5c" stroke-width="0.7"/>
<circle cx="490.9" cy="867.4" r="1.6" fill="#3a73ad" stroke="#1b3a5c" stroke-width="0.7"/>
<circle cx="494.4" cy="867.8" r="1.6" fill="#3a73ad" stroke="#1b3a5c" stroke-width="0.7"/>
<circle cx="499.8" cy="871.7" r="1.6" fill="#3a73ad" stroke="#1b3a5c" stroke-width="0.7"/>
<circle cx="503" cy="873.8" r="1.6" fill="#3a73ad" stroke="#1b3a5c" stroke-width="0.7"/>
<circle cx="497.7" cy="875.9" r="1.6" fill="#3a73ad" stroke="#1b3a5c" stroke-width="0.7"/>
<circle cx="489" cy="876.7" r="1.6" fill="#3a73ad" stroke="#1b3a5c" stroke-width="0.7"/>
<circle cx="492" cy="880" r="1.6" fill="#3a73ad" stroke="#1b3a5c" stroke-width="0.7"/>
<circle cx="482.8" cy="885.6" r="1.6" fill="#3a73ad" stroke="#1b3a5c" stroke-width="0.7"/>
<circle cx="496.5" cy="891.1" r="1.6" fill="#3a73ad" stroke="#1b3a5c" stroke-width="0.7"/>
<circle cx="503" cy="889.6" r="1.6" fill="#3a73ad" stroke="#1b3a5c" stroke-width="0.7"/>
<circle cx="502.7" cy="905.3" r="1.6" fill="#3a73ad" stroke="#1b3a5c" stroke-width="0.7"/>
<circle cx="481.5" cy="915" r="1.6" fill="#3a73ad" stroke="#1b3a5c" stroke-width="0.7"/>
<circle cx="484.9" cy="918.7" r="1.6" fill="#3a73ad" stroke="#1b3a5c" stroke-width="0.7"/>
<circle cx="485.6" cy="935.5" r="1.6" fill="#3a73ad" stroke="#1b3a5c" stroke-width="0.7"/>
<circle cx="494.1" cy="955.4" r="1.6" fill="#3a73ad" stroke="#1b3a5c" stroke-width="0.7"/>
<path d="M613.1,712.4 C613.1,713.67 612.92,716.62 613.1,720 C613.28,723.38 613.5,728.45 614.2,732.7 C614.9,736.95 615.73,740.95 617.3,745.5 C618.87,750.05 621.48,755.47 623.6,760 C625.72,764.53 627.87,768.45 630,772.7 C632.13,776.95 634.73,781.55 636.4,785.5 C638.07,789.45 639.25,792.47 640,796.4 C640.75,800.33 641.05,804.57 640.9,809.1 C640.75,813.63 640,819.37 639.1,823.6 C638.2,827.83 637.02,830.85 635.5,834.5 C633.98,838.15 631.83,841.85 630,845.5 C628.17,849.15 626.32,853.38 624.5,856.4 C622.68,859.42 620.15,861.78 619.1,863.6 C618.05,865.42 618.35,866.68 618.2,867.3 L604.5,867.3 L604.5,867.3 C604.35,866.68 604.35,865.42 603.6,863.6 C602.85,861.78 601.52,859.42 600,856.4 C598.48,853.38 596.47,849.15 594.5,845.5 C592.53,841.85 590.02,838.15 588.2,834.5 C586.38,830.85 584.72,827.83 583.6,823.6 C582.48,819.37 581.8,813.63 581.5,809.1 C581.2,804.57 581.13,800.65 581.8,796.4 C582.47,792.15 583.98,787.55 585.5,783.6 C587.02,779.65 588.93,776.63 590.9,772.7 C592.87,768.77 595.03,764.53 597.3,760 C599.57,755.47 602.78,750.05 604.5,745.5 C606.22,740.95 606.9,736.95 607.6,732.7 C608.3,728.45 608.52,723.38 608.7,720 C608.88,716.62 608.7,713.67 608.7,712.4 Z" fill="#f08a14" fill-opacity="0.22" stroke="#1a1a1a" stroke-width="1.2" stroke-linejoin="round"/>
<line x1="610.9" y1="750.9" x2="610.9" y2="783.3" stroke="#1a1a1a" stroke-width="1.15"/>
<line x1="610.9" y1="829.6" x2="610.9" y2="867.3" stroke="#1a1a1a" stroke-width="1.15"/>
<polygon points="580.9,783.3 640.9,783.3 640.9,793.6 626.4,805.1 640.9,815.5 640.9,829.6 580.9,829.6 580.9,815.5 595.5,805.1 580.9,793.6" fill="#f08a14" fill-opacity="0.25" stroke="#1a1a1a" stroke-width="1.15" stroke-linejoin="miter"/>
<line x1="595.5" y1="805.1" x2="626.4" y2="805.1" stroke="#0a0a0a" stroke-width="1.9"/>
<circle cx="618.5" cy="712.4" r="1.6" fill="#e8830f" stroke="#5a3000" stroke-width="0.7"/>
<circle cx="605.5" cy="750" r="1.6" fill="#e8830f" stroke="#5a3000" stroke-width="0.7"/>
<circle cx="603.6" cy="753.1" r="1.6" fill="#e8830f" stroke="#5a3000" stroke-width="0.7"/>
<circle cx="615.8" cy="753.1" r="1.6" fill="#e8830f" stroke="#5a3000" stroke-width="0.7"/>
<circle cx="600" cy="766.9" r="1.6" fill="#e8830f" stroke="#5a3000" stroke-width="0.7"/>
<circle cx="608.2" cy="769.1" r="1.6" fill="#e8830f" stroke="#5a3000" stroke-width="0.7"/>
<circle cx="607.6" cy="775.1" r="1.6" fill="#e8830f" stroke="#5a3000" stroke-width="0.7"/>
<circle cx="609.5" cy="777.3" r="1.6" fill="#e8830f" stroke="#5a3000" stroke-width="0.7"/>
<circle cx="616" cy="780.5" r="1.6" fill="#e8830f" stroke="#5a3000" stroke-width="0.7"/>
<circle cx="619.1" cy="783.6" r="1.6" fill="#e8830f" stroke="#5a3000" stroke-width="0.7"/>
<circle cx="619.6" cy="785.5" r="1.6" fill="#e8830f" stroke="#5a3000" stroke-width="0.7"/>
<circle cx="606" cy="783.1" r="1.6" fill="#e8830f" stroke="#5a3000" stroke-width="0.7"/>
<circle cx="604.5" cy="789.6" r="1.6" fill="#e8830f" stroke="#5a3000" stroke-width="0.7"/>
<circle cx="609.1" cy="795.5" r="1.6" fill="#e8830f" stroke="#5a3000" stroke-width="0.7"/>
<circle cx="603.1" cy="798.2" r="1.6" fill="#e8830f" stroke="#5a3000" stroke-width="0.7"/>
<circle cx="620" cy="797.6" r="1.6" fill="#e8830f" stroke="#5a3000" stroke-width="0.7"/>
<circle cx="599.6" cy="802.7" r="1.6" fill="#e8830f" stroke="#5a3000" stroke-width="0.7"/>
<circle cx="600.4" cy="805.1" r="1.6" fill="#e8830f" stroke="#5a3000" stroke-width="0.7"/>
<circle cx="606.9" cy="802.2" r="1.6" fill="#e8830f" stroke="#5a3000" stroke-width="0.7"/>
<circle cx="617.8" cy="801.8" r="1.6" fill="#e8830f" stroke="#5a3000" stroke-width="0.7"/>
<circle cx="602.7" cy="810" r="1.6" fill="#e8830f" stroke="#5a3000" stroke-width="0.7"/>
<circle cx="619.6" cy="813.1" r="1.6" fill="#e8830f" stroke="#5a3000" stroke-width="0.7"/>
<circle cx="621.1" cy="813.1" r="1.6" fill="#e8830f" stroke="#5a3000" stroke-width="0.7"/>
<circle cx="607.8" cy="815.8" r="1.6" fill="#e8830f" stroke="#5a3000" stroke-width="0.7"/>
<circle cx="603.6" cy="817.8" r="1.6" fill="#e8830f" stroke="#5a3000" stroke-width="0.7"/>
<circle cx="607.3" cy="820.4" r="1.6" fill="#e8830f" stroke="#5a3000" stroke-width="0.7"/>
<circle cx="615.5" cy="823.6" r="1.6" fill="#e8830f" stroke="#5a3000" stroke-width="0.7"/>
<circle cx="617.8" cy="822.9" r="1.6" fill="#e8830f" stroke="#5a3000" stroke-width="0.7"/>
<circle cx="607.6" cy="828.7" r="1.6" fill="#e8830f" stroke="#5a3000" stroke-width="0.7"/>
<circle cx="616" cy="830.5" r="1.6" fill="#e8830f" stroke="#5a3000" stroke-width="0.7"/>
<circle cx="614.2" cy="832.4" r="1.6" fill="#e8830f" stroke="#5a3000" stroke-width="0.7"/>
<circle cx="603.1" cy="840.4" r="1.6" fill="#e8830f" stroke="#5a3000" stroke-width="0.7"/>
<circle cx="608.2" cy="838.5" r="1.6" fill="#e8830f" stroke="#5a3000" stroke-width="0.7"/>
<circle cx="614" cy="839.6" r="1.6" fill="#e8830f" stroke="#5a3000" stroke-width="0.7"/>
<circle cx="603.1" cy="844" r="1.6" fill="#e8830f" stroke="#5a3000" stroke-width="0.7"/>
<circle cx="604.9" cy="854.9" r="1.6" fill="#e8830f" stroke="#5a3000" stroke-width="0.7"/>
<circle cx="604.9" cy="856.7" r="1.6" fill="#e8830f" stroke="#5a3000" stroke-width="0.7"/>
<circle cx="601.8" cy="867.6" r="1.6" fill="#e8830f" stroke="#5a3000" stroke-width="0.7"/>
<rect x="419.9" y="700.3" width="262.6" height="266.8" fill="none" stroke="#7a7a7a" stroke-width="1.1"/>
<line x1="416.7" y1="726.6" x2="419.9" y2="726.6" stroke="#444" stroke-width="0.9"/>
<text x="415.3" y="728.65" font-size="5.8" text-anchor="end" font-weight="normal" fill="#383838" stroke="#383838" stroke-width="0.15">10</text>
<line x1="416.7" y1="786.4" x2="419.9" y2="786.4" stroke="#444" stroke-width="0.9"/>
<text x="415.3" y="788.45" font-size="5.8" text-anchor="end" font-weight="normal" fill="#383838" stroke="#383838" stroke-width="0.15">5</text>
<line x1="416.7" y1="846.2" x2="419.9" y2="846.2" stroke="#444" stroke-width="0.9"/>
<text x="415.3" y="848.25" font-size="5.8" text-anchor="end" font-weight="normal" fill="#383838" stroke="#383838" stroke-width="0.15">0</text>
<line x1="416.7" y1="906" x2="419.9" y2="906" stroke="#444" stroke-width="0.9"/>
<text x="415.3" y="908.05" font-size="5.8" text-anchor="end" font-weight="normal" fill="#383838" stroke="#383838" stroke-width="0.15">−5</text>
<line x1="416.7" y1="965.8" x2="419.9" y2="965.8" stroke="#444" stroke-width="0.9"/>
<text x="415.3" y="967.85" font-size="5.8" text-anchor="end" font-weight="normal" fill="#383838" stroke="#383838" stroke-width="0.15">−10</text>
<line x1="491.5" y1="967.1" x2="491.5" y2="970.3" stroke="#444" stroke-width="0.9"/>
<text x="491.5" y="976.3" font-size="5.8" text-anchor="middle" font-weight="normal" fill="#383838" stroke="#383838" stroke-width="0.15">Control</text>
<line x1="610.9" y1="967.1" x2="610.9" y2="970.3" stroke="#444" stroke-width="0.9"/>
<text x="610.9" y="976.3" font-size="5.8" text-anchor="middle" font-weight="normal" fill="#383838" stroke="#383838" stroke-width="0.15">Stroke</text>
<text x="551.2" y="984.2" font-size="7" text-anchor="middle" font-weight="normal" fill="#111" stroke="#111" stroke-width="0.18">Group</text>
<text x="401.4" y="833.5" font-size="7" text-anchor="middle" font-weight="normal" fill="#111" transform="rotate(-90 401.4 833.5)" stroke="#111" stroke-width="0.18">Riskscore</text>
<text x="478.1" y="712.5" font-size="6.55" text-anchor="start" font-weight="normal" fill="#111" stroke="#111" stroke-width="0.14">Wilcoxon, p = 1.1e−11</text>
</g></svg></body></html>
